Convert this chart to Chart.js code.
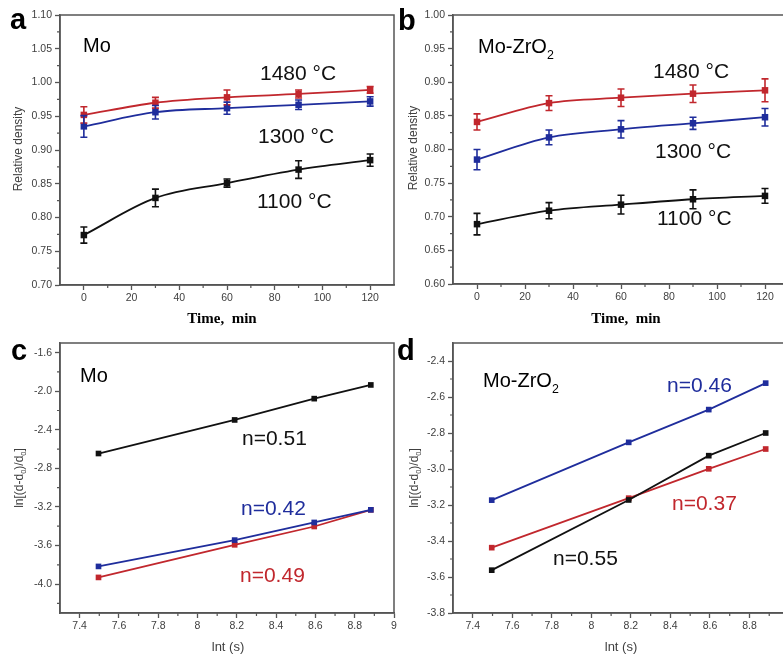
<!DOCTYPE html>
<html>
<head>
<meta charset="utf-8">
<script src="https://cdn.jsdelivr.net/npm/chart.js@4.4.0/dist/chart.umd.min.js"></script>
<style>
  html, body { margin: 0; padding: 0; background: #fff; width: 783px; height: 658px; overflow: hidden; }
  canvas { position: absolute; }
</style>
</head>
<body>
<canvas id="panelA" width="400" height="330" style="left:0;top:0"></canvas>
<canvas id="panelB" width="410" height="330" style="left:393px;top:0"></canvas>
<canvas id="panelC" width="400" height="338" style="left:0;top:320px"></canvas>
<canvas id="panelD" width="410" height="338" style="left:393px;top:320px"></canvas>
<script>
const SANS = '"Liberation Sans", Arial, Helvetica, sans-serif';
const SERIF = '"Liberation Serif", "Times New Roman", serif';
const RED = '#c1272d', BLUE = '#1f2d9c', BLACK = '#111111', AXIS = '#555555', LABEL = '#404040';

// ---- data: relative density vs time ----
const timeMin = [0, 30, 60, 90, 120];

const moDensity1480 = [0.952, 0.970, 0.978, 0.983, 0.989];
const moErr1480     = [0.012, 0.008, 0.011, 0.006, 0.005];
const moDensity1300 = [0.935, 0.956, 0.962, 0.967, 0.972];
const moErr1300     = [0.016, 0.010, 0.009, 0.007, 0.007];
const moDensity1100 = [0.774, 0.829, 0.851, 0.871, 0.885];
const moErr1100     = [0.012, 0.013, 0.006, 0.013, 0.009];

const zrDensity1480 = [0.841, 0.869, 0.877, 0.883, 0.888];
const zrErr1480     = [0.012, 0.011, 0.013, 0.013, 0.017];
const zrDensity1300 = [0.785, 0.818, 0.830, 0.839, 0.848];
const zrErr1300     = [0.015, 0.011, 0.013, 0.009, 0.013];
const zrDensity1100 = [0.689, 0.709, 0.718, 0.726, 0.731];
const zrErr1100     = [0.016, 0.012, 0.014, 0.014, 0.011];

// ---- data: grain growth ln[(d-d0)/d0] vs ln t ----
const lnTime = [7.496, 8.189, 8.594, 8.882];

const moLn1100 = [-2.646, -2.298, -2.077, -1.935];
const moLn1300 = [-3.817, -3.544, -3.361, -3.230];
const moLn1480 = [-3.931, -3.593, -3.403, -3.230];

const zrLn1300 = [-3.173, -2.852, -2.670, -2.523];
const zrLn1100 = [-3.562, -3.172, -2.926, -2.800];
const zrLn1480 = [-3.437, -3.162, -2.999, -2.889];

// ---- tick values ----
const timeTicks      = [0, 20, 40, 60, 80, 100, 120];
const timeMinor      = [10, 30, 50, 70, 90, 110];
const densTicksA     = [0.70, 0.75, 0.80, 0.85, 0.90, 0.95, 1.00, 1.05, 1.10];
const densMinorA     = [0.725, 0.775, 0.825, 0.875, 0.925, 0.975, 1.025, 1.075];
const densTicksB     = [0.60, 0.65, 0.70, 0.75, 0.80, 0.85, 0.90, 0.95, 1.00];
const densMinorB     = [0.625, 0.675, 0.725, 0.775, 0.825, 0.875, 0.925, 0.975];
const lnTimeTicks    = [7.4, 7.6, 7.8, 8.0, 8.2, 8.4, 8.6, 8.8, 9.0];
const lnTimeMinor    = [7.5, 7.7, 7.9, 8.1, 8.3, 8.5, 8.7, 8.9];
const lnTicksC       = [-4.0, -3.6, -3.2, -2.8, -2.4, -2.0, -1.6];
const lnMinorC       = [-4.2, -3.8, -3.4, -3.0, -2.6, -2.2, -1.8];
const lnTicksD       = [-3.8, -3.6, -3.4, -3.2, -3.0, -2.8, -2.6, -2.4];
const lnMinorD       = [-3.7, -3.5, -3.3, -3.1, -2.9, -2.7, -2.5];

const pts = (xs, ys) => xs.map((x, i) => ({ x: x, y: ys[i] }));

function series(xs, ys, err, color, smooth, r) {
  return {
    data: pts(xs, ys), err: err,
    borderColor: color, backgroundColor: color, borderWidth: 1.8,
    pointStyle: 'rect', pointRadius: r, pointHoverRadius: r, pointBorderWidth: 0,
    tension: smooth ? 0.4 : 0, cubicInterpolationMode: smooth ? 'monotone' : 'default',
    fill: false
  };
}

function drawText(ctx, t) {
  ctx.save();
  const parts = typeof t.text === 'string' ? [{ s: t.text }] : t.text;
  const font = sub => (t.bold ? 'bold ' : '') + (sub ? t.size * 0.62 : t.size) + 'px ' + (t.family || SANS);
  let w = 0;
  parts.forEach(p => { ctx.font = font(p.sub); w += ctx.measureText(p.s).width; });
  ctx.translate(t.x, t.y);
  if (t.rotate) ctx.rotate(-Math.PI / 2);
  let cx = t.align === 'center' ? -w / 2 : 0;
  ctx.fillStyle = t.color || '#000';
  ctx.textBaseline = t.rotate ? 'middle' : 'alphabetic';
  parts.forEach(p => {
    ctx.font = font(p.sub);
    ctx.fillText(p.s, cx, p.sub ? t.size * 0.32 : 0);
    cx += ctx.measureText(p.s).width;
  });
  ctx.restore();
}

const errorBars = {
  id: 'errorBars',
  afterDatasetsDraw(chart) {
    const { ctx } = chart;
    const xs = chart.scales.x, ys = chart.scales.y;
    chart.data.datasets.forEach(ds => {
      if (!ds.err) return;
      ctx.save();
      ctx.strokeStyle = ds.borderColor;
      ctx.lineWidth = 1.6;
      ds.data.forEach((p, i) => {
        const px = xs.getPixelForValue(p.x);
        const y1 = ys.getPixelForValue(p.y - ds.err[i]);
        const y2 = ys.getPixelForValue(p.y + ds.err[i]);
        ctx.beginPath();
        ctx.moveTo(px, y1); ctx.lineTo(px, y2);
        ctx.moveTo(px - 3.5, y1); ctx.lineTo(px + 3.5, y1);
        ctx.moveTo(px - 3.5, y2); ctx.lineTo(px + 3.5, y2);
        ctx.stroke();
      });
      ctx.restore();
    });
  }
};

// frame, minor ticks and all the text of a panel
function decor(cfg) {
  return {
    id: 'decor',
    afterDraw(chart) {
      const { ctx, chartArea: a } = chart;
      const xs = chart.scales.x, ys = chart.scales.y;
      ctx.save();
      ctx.strokeStyle = AXIS;
      ctx.lineWidth = 1.5;
      ctx.strokeRect(a.left, a.top, a.right - a.left, a.bottom - a.top);
      ctx.lineWidth = 1.2;
      ctx.beginPath();
      cfg.minorX.forEach(v => {
        const px = xs.getPixelForValue(v);
        ctx.moveTo(px, a.bottom); ctx.lineTo(px, a.bottom + 3);
      });
      cfg.minorY.forEach(v => {
        const py = ys.getPixelForValue(v);
        ctx.moveTo(a.left, py); ctx.lineTo(a.left - 3, py);
      });
      ctx.stroke();
      ctx.restore();
      cfg.texts.forEach(t => drawText(ctx, Object.assign({}, t, { x: t.x - cfg.ox, y: t.y - cfg.oy })));
    }
  };
}

function axis(min, max, ticks, fmt, fitSize, horizontal) {
  return {
    type: 'linear', min: min, max: max,
    afterBuildTicks: s => { s.ticks = ticks.map(v => ({ value: v })); },
    afterFit: s => { if (horizontal) s.height = fitSize; else s.width = fitSize; },
    ticks: {
      callback: fmt, color: LABEL, autoSkip: false, maxRotation: 0,
      padding: horizontal ? 2 : 3,
      font: { family: SANS, size: 10.5 }
    },
    grid: { drawOnChartArea: false, drawTicks: true, tickLength: 5, tickColor: AXIS, tickWidth: 1.3 },
    border: { display: true, color: AXIS, width: 1.5 }
  };
}

function makePanel(id, p) {
  new Chart(document.getElementById(id), {
    type: 'line',
    data: { datasets: p.datasets },
    options: {
      responsive: false, animation: false, devicePixelRatio: 1,
      layout: { padding: { top: p.top, right: p.right, left: 0, bottom: 0 } },
      plugins: { legend: { display: false }, tooltip: { enabled: false } },
      scales: {
        x: axis(p.xMin, p.xMax, p.xTicks, p.xFmt, p.xHeight, true),
        y: axis(p.yMin, p.yMax, p.yTicks, p.yFmt, 60, false)
      }
    },
    plugins: [errorBars, decor(p.decor)]
  });
}

const intFmt = v => String(v);
const fix2 = v => v.toFixed(2);
const fix1 = v => v.toFixed(1);
const lnFmt = v => String(+v.toFixed(1));

const temp = (s, x, y) => ({ text: s, x: x, y: y, size: 21, color: BLACK });
const nLabel = (s, x, y, c) => ({ text: s, x: x, y: y, size: 21, color: c });
const zrText = [{ s: 'Mo-ZrO' }, { s: '2', sub: true }];
const lnTitle = [{ s: 'ln[(d-d' }, { s: '0', sub: true }, { s: ')/d' }, { s: '0', sub: true }, { s: ']' }];

makePanel('panelA', {
  datasets: [
    series(timeMin, moDensity1480, moErr1480, RED, true, 4.6),
    series(timeMin, moDensity1300, moErr1300, BLUE, true, 4.6),
    series(timeMin, moDensity1100, moErr1100, BLACK, true, 4.6)
  ],
  xMin: -10, xMax: 130, xTicks: timeTicks, xFmt: intFmt, xHeight: 45,
  yMin: 0.70, yMax: 1.10, yTicks: densTicksA, yFmt: fix2,
  top: 15, right: 6,
  decor: {
    ox: 0, oy: 0, minorX: timeMinor, minorY: densMinorA,
    texts: [
      { text: 'a', x: 10, y: 29, size: 29, bold: true },
      { text: 'Mo', x: 83, y: 52, size: 20 },
      temp('1480 °C', 260, 80), temp('1300 °C', 258, 143), temp('1100 °C', 257, 208),
      { text: 'Relative density', x: 19, y: 149, size: 12, color: LABEL, rotate: true, align: 'center' },
      { text: 'Time,  min', x: 222, y: 323, size: 15, bold: true, family: SERIF, align: 'center' }
    ]
  }
});

makePanel('panelB', {
  datasets: [
    series(timeMin, zrDensity1480, zrErr1480, RED, true, 4.6),
    series(timeMin, zrDensity1300, zrErr1300, BLUE, true, 4.6),
    series(timeMin, zrDensity1100, zrErr1100, BLACK, true, 4.6)
  ],
  xMin: -10, xMax: 130, xTicks: timeTicks, xFmt: intFmt, xHeight: 46,
  yMin: 0.60, yMax: 1.00, yTicks: densTicksB, yFmt: fix2,
  top: 15, right: 14,
  decor: {
    ox: 393, oy: 0, minorX: timeMinor, minorY: densMinorB,
    texts: [
      { text: 'b', x: 398, y: 30, size: 29, bold: true },
      { text: zrText, x: 478, y: 53, size: 20 },
      temp('1480 °C', 653, 78), temp('1300 °C', 655, 158), temp('1100 °C', 657, 225),
      { text: 'Relative density', x: 414, y: 148, size: 12, color: LABEL, rotate: true, align: 'center' },
      { text: 'Time,  min', x: 626, y: 323, size: 15, bold: true, family: SERIF, align: 'center' }
    ]
  }
});

makePanel('panelC', {
  datasets: [
    series(lnTime, moLn1100, null, BLACK, false, 4),
    series(lnTime, moLn1300, null, BLUE, false, 4),
    series(lnTime, moLn1480, null, RED, false, 4)
  ],
  xMin: 7.3, xMax: 9.0, xTicks: lnTimeTicks, xFmt: lnFmt, xHeight: 45,
  yMin: -4.3, yMax: -1.5, yTicks: lnTicksC, yFmt: fix1,
  top: 23, right: 6,
  decor: {
    ox: 0, oy: 320, minorX: lnTimeMinor, minorY: lnMinorC,
    texts: [
      { text: 'c', x: 11, y: 360, size: 29, bold: true },
      { text: 'Mo', x: 80, y: 382, size: 20 },
      nLabel('n=0.51', 242, 445, BLACK), nLabel('n=0.42', 241, 515, BLUE), nLabel('n=0.49', 240, 582, RED),
      { text: lnTitle, x: 20, y: 478, size: 12, color: LABEL, rotate: true, align: 'center' },
      { text: 'lnt (s)', x: 228, y: 651, size: 13, color: LABEL, align: 'center' }
    ]
  }
});

makePanel('panelD', {
  datasets: [
    series(lnTime, zrLn1300, null, BLUE, false, 4),
    series(lnTime, zrLn1100, null, BLACK, false, 4),
    series(lnTime, zrLn1480, null, RED, false, 4)
  ],
  xMin: 7.3, xMax: 9.0, xTicks: lnTimeTicks, xFmt: lnFmt, xHeight: 45,
  yMin: -3.8, yMax: -2.3, yTicks: lnTicksD, yFmt: fix1,
  top: 23, right: 14,
  decor: {
    ox: 393, oy: 320, minorX: lnTimeMinor, minorY: lnMinorD,
    texts: [
      { text: 'd', x: 397, y: 360, size: 29, bold: true },
      { text: zrText, x: 483, y: 387, size: 20 },
      nLabel('n=0.46', 667, 392, BLUE), nLabel('n=0.37', 672, 510, RED), nLabel('n=0.55', 553, 565, BLACK),
      { text: lnTitle, x: 415, y: 478, size: 12, color: LABEL, rotate: true, align: 'center' },
      { text: 'lnt (s)', x: 621, y: 651, size: 13, color: LABEL, align: 'center' }
    ]
  }
});
</script>
</body>
</html>
